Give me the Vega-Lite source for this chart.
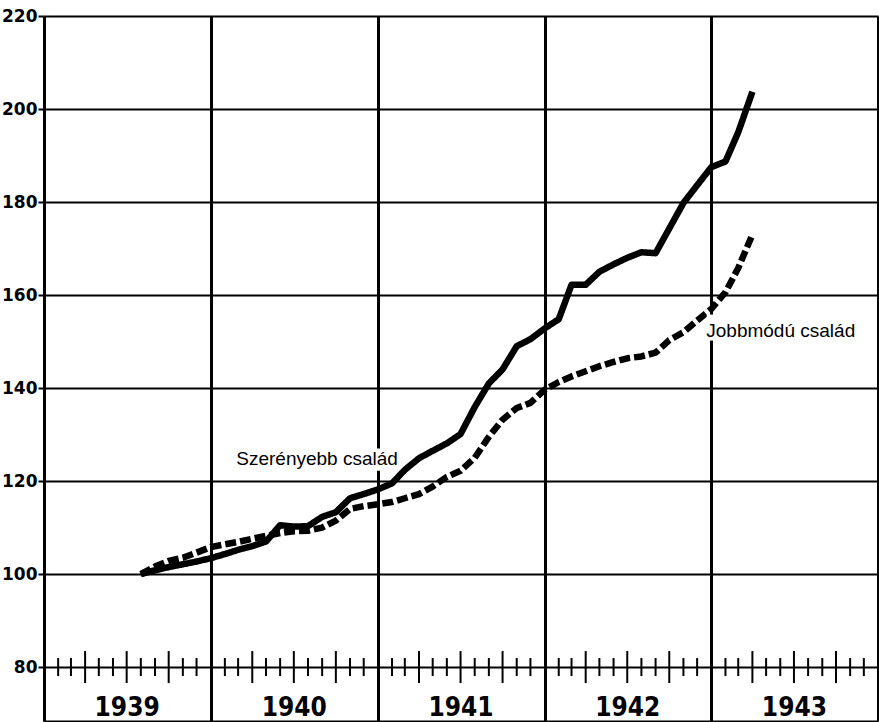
{
  "$schema": "https://vega.github.io/schema/vega-lite/v6.json",
  "width": 834,
  "height": 705,
  "autosize": {"type": "none"},
  "padding": {"left": 44, "top": 16, "right": 1, "bottom": 1},
  "background": "white",
  "config": {"view": {"stroke": null}},
  "datasets": {
    "series": [
      {"d": "1939-08-01", "v": 100.0, "s": "Szerényebb család"},
      {"d": "1939-09-01", "v": 100.8, "s": "Szerényebb család"},
      {"d": "1939-10-01", "v": 101.5, "s": "Szerényebb család"},
      {"d": "1939-11-01", "v": 102.1, "s": "Szerényebb család"},
      {"d": "1939-12-01", "v": 102.7, "s": "Szerényebb család"},
      {"d": "1940-01-01", "v": 103.4, "s": "Szerényebb család"},
      {"d": "1940-02-01", "v": 104.3, "s": "Szerényebb család"},
      {"d": "1940-03-01", "v": 105.2, "s": "Szerényebb család"},
      {"d": "1940-04-01", "v": 106.0, "s": "Szerényebb család"},
      {"d": "1940-05-01", "v": 107.0, "s": "Szerényebb család"},
      {"d": "1940-06-01", "v": 110.5, "s": "Szerényebb család"},
      {"d": "1940-07-01", "v": 110.2, "s": "Szerényebb család"},
      {"d": "1940-08-01", "v": 110.3, "s": "Szerényebb család"},
      {"d": "1940-09-01", "v": 112.3, "s": "Szerényebb család"},
      {"d": "1940-10-01", "v": 113.3, "s": "Szerényebb család"},
      {"d": "1940-11-01", "v": 116.3, "s": "Szerényebb család"},
      {"d": "1940-12-01", "v": 117.2, "s": "Szerényebb család"},
      {"d": "1941-01-01", "v": 118.2, "s": "Szerényebb család"},
      {"d": "1941-02-01", "v": 119.5, "s": "Szerényebb család"},
      {"d": "1941-03-01", "v": 122.4, "s": "Szerényebb család"},
      {"d": "1941-04-01", "v": 124.9, "s": "Szerényebb család"},
      {"d": "1941-05-01", "v": 126.5, "s": "Szerényebb család"},
      {"d": "1941-06-01", "v": 128.1, "s": "Szerényebb család"},
      {"d": "1941-07-01", "v": 130.1, "s": "Szerényebb család"},
      {"d": "1941-08-01", "v": 135.9, "s": "Szerényebb család"},
      {"d": "1941-09-01", "v": 141.0, "s": "Szerényebb család"},
      {"d": "1941-10-01", "v": 144.0, "s": "Szerényebb család"},
      {"d": "1941-11-01", "v": 149.0, "s": "Szerényebb család"},
      {"d": "1941-12-01", "v": 150.5, "s": "Szerényebb család"},
      {"d": "1942-01-01", "v": 152.8, "s": "Szerényebb család"},
      {"d": "1942-02-01", "v": 154.8, "s": "Szerényebb család"},
      {"d": "1942-03-01", "v": 162.2, "s": "Szerényebb család"},
      {"d": "1942-04-01", "v": 162.2, "s": "Szerényebb család"},
      {"d": "1942-05-01", "v": 165.0, "s": "Szerényebb család"},
      {"d": "1942-06-01", "v": 166.6, "s": "Szerényebb család"},
      {"d": "1942-07-01", "v": 168.0, "s": "Szerényebb család"},
      {"d": "1942-08-01", "v": 169.2, "s": "Szerényebb család"},
      {"d": "1942-09-01", "v": 169.0, "s": "Szerényebb család"},
      {"d": "1942-10-01", "v": 174.3, "s": "Szerényebb család"},
      {"d": "1942-11-01", "v": 179.8, "s": "Szerényebb család"},
      {"d": "1942-12-01", "v": 183.6, "s": "Szerényebb család"},
      {"d": "1943-01-01", "v": 187.5, "s": "Szerényebb család"},
      {"d": "1943-02-01", "v": 188.7, "s": "Szerényebb család"},
      {"d": "1943-03-01", "v": 195.0, "s": "Szerényebb család"},
      {"d": "1943-04-01", "v": 203.7, "s": "Szerényebb család"},
      {"d": "1939-08-01", "v": 100.0, "s": "Jobbmódú család"},
      {"d": "1939-09-01", "v": 101.6, "s": "Jobbmódú család"},
      {"d": "1939-10-01", "v": 102.8, "s": "Jobbmódú család"},
      {"d": "1939-11-01", "v": 103.5, "s": "Jobbmódú család"},
      {"d": "1939-12-01", "v": 104.6, "s": "Jobbmódú család"},
      {"d": "1940-01-01", "v": 105.8, "s": "Jobbmódú család"},
      {"d": "1940-02-01", "v": 106.4, "s": "Jobbmódú család"},
      {"d": "1940-03-01", "v": 106.9, "s": "Jobbmódú család"},
      {"d": "1940-04-01", "v": 107.6, "s": "Jobbmódú család"},
      {"d": "1940-05-01", "v": 108.2, "s": "Jobbmódú család"},
      {"d": "1940-06-01", "v": 108.8, "s": "Jobbmódú család"},
      {"d": "1940-07-01", "v": 109.2, "s": "Jobbmódú család"},
      {"d": "1940-08-01", "v": 109.3, "s": "Jobbmódú család"},
      {"d": "1940-09-01", "v": 110.0, "s": "Jobbmódú család"},
      {"d": "1940-10-01", "v": 111.5, "s": "Jobbmódú család"},
      {"d": "1940-11-01", "v": 114.0, "s": "Jobbmódú család"},
      {"d": "1940-12-01", "v": 114.6, "s": "Jobbmódú család"},
      {"d": "1941-01-01", "v": 115.0, "s": "Jobbmódú család"},
      {"d": "1941-02-01", "v": 115.5, "s": "Jobbmódú család"},
      {"d": "1941-03-01", "v": 116.3, "s": "Jobbmódú család"},
      {"d": "1941-04-01", "v": 117.2, "s": "Jobbmódú család"},
      {"d": "1941-05-01", "v": 118.8, "s": "Jobbmódú család"},
      {"d": "1941-06-01", "v": 120.9, "s": "Jobbmódú család"},
      {"d": "1941-07-01", "v": 122.2, "s": "Jobbmódú család"},
      {"d": "1941-08-01", "v": 125.0, "s": "Jobbmódú család"},
      {"d": "1941-09-01", "v": 129.5, "s": "Jobbmódú család"},
      {"d": "1941-10-01", "v": 133.2, "s": "Jobbmódú család"},
      {"d": "1941-11-01", "v": 135.7, "s": "Jobbmódú család"},
      {"d": "1941-12-01", "v": 136.8, "s": "Jobbmódú család"},
      {"d": "1942-01-01", "v": 139.6, "s": "Jobbmódú család"},
      {"d": "1942-02-01", "v": 141.3, "s": "Jobbmódú család"},
      {"d": "1942-03-01", "v": 142.5, "s": "Jobbmódú család"},
      {"d": "1942-04-01", "v": 143.6, "s": "Jobbmódú család"},
      {"d": "1942-05-01", "v": 144.7, "s": "Jobbmódú család"},
      {"d": "1942-06-01", "v": 145.6, "s": "Jobbmódú család"},
      {"d": "1942-07-01", "v": 146.4, "s": "Jobbmódú család"},
      {"d": "1942-08-01", "v": 146.8, "s": "Jobbmódú család"},
      {"d": "1942-09-01", "v": 147.6, "s": "Jobbmódú család"},
      {"d": "1942-10-01", "v": 150.3, "s": "Jobbmódú család"},
      {"d": "1942-11-01", "v": 152.0, "s": "Jobbmódú család"},
      {"d": "1942-12-01", "v": 154.5, "s": "Jobbmódú család"},
      {"d": "1943-01-01", "v": 157.0, "s": "Jobbmódú család"},
      {"d": "1943-02-01", "v": 160.6, "s": "Jobbmódú család"},
      {"d": "1943-03-01", "v": 165.8, "s": "Jobbmódú család"},
      {"d": "1943-04-01", "v": 173.0, "s": "Jobbmódú család"}
    ],
    "ticks": [
      {"d": "1939-02-01", "k": "m"}, {"d": "1939-03-01", "k": "m"}, {"d": "1939-04-01", "k": "q"},
      {"d": "1939-05-01", "k": "m"}, {"d": "1939-06-01", "k": "m"}, {"d": "1939-07-01", "k": "q"},
      {"d": "1939-08-01", "k": "m"}, {"d": "1939-09-01", "k": "m"}, {"d": "1939-10-01", "k": "q"},
      {"d": "1939-11-01", "k": "m"}, {"d": "1939-12-01", "k": "m"},
      {"d": "1940-02-01", "k": "m"}, {"d": "1940-03-01", "k": "m"}, {"d": "1940-04-01", "k": "q"},
      {"d": "1940-05-01", "k": "m"}, {"d": "1940-06-01", "k": "m"}, {"d": "1940-07-01", "k": "q"},
      {"d": "1940-08-01", "k": "m"}, {"d": "1940-09-01", "k": "m"}, {"d": "1940-10-01", "k": "q"},
      {"d": "1940-11-01", "k": "m"}, {"d": "1940-12-01", "k": "m"},
      {"d": "1941-02-01", "k": "m"}, {"d": "1941-03-01", "k": "m"}, {"d": "1941-04-01", "k": "q"},
      {"d": "1941-05-01", "k": "m"}, {"d": "1941-06-01", "k": "m"}, {"d": "1941-07-01", "k": "q"},
      {"d": "1941-08-01", "k": "m"}, {"d": "1941-09-01", "k": "m"}, {"d": "1941-10-01", "k": "q"},
      {"d": "1941-11-01", "k": "m"}, {"d": "1941-12-01", "k": "m"},
      {"d": "1942-02-01", "k": "m"}, {"d": "1942-03-01", "k": "m"}, {"d": "1942-04-01", "k": "q"},
      {"d": "1942-05-01", "k": "m"}, {"d": "1942-06-01", "k": "m"}, {"d": "1942-07-01", "k": "q"},
      {"d": "1942-08-01", "k": "m"}, {"d": "1942-09-01", "k": "m"}, {"d": "1942-10-01", "k": "q"},
      {"d": "1942-11-01", "k": "m"}, {"d": "1942-12-01", "k": "m"},
      {"d": "1943-02-01", "k": "m"}, {"d": "1943-03-01", "k": "m"}, {"d": "1943-04-01", "k": "q"},
      {"d": "1943-05-01", "k": "m"}, {"d": "1943-06-01", "k": "m"}, {"d": "1943-07-01", "k": "q"},
      {"d": "1943-08-01", "k": "m"}, {"d": "1943-09-01", "k": "m"}, {"d": "1943-10-01", "k": "q"},
      {"d": "1943-11-01", "k": "m"}, {"d": "1943-12-01", "k": "m"}
    ],
    "years": [
      {"year": "1939", "d": "1939-07-02"},
      {"year": "1940", "d": "1940-07-02"},
      {"year": "1941", "d": "1941-07-02"},
      {"year": "1942", "d": "1942-07-02"},
      {"year": "1943", "d": "1943-07-02"}
    ]
  },
  "encoding": {
    "x": {
      "type": "temporal",
      "scale": {
        "type": "utc",
        "domain": [
          {"year": 1939, "month": 1, "date": 1, "utc": true},
          {"year": 1944, "month": 1, "date": 1, "utc": true}
        ]
      },
      "axis": {
        "title": null,
        "labels": false,
        "ticks": false,
        "domain": true,
        "domainColor": "black",
        "domainWidth": 2,
        "grid": true,
        "gridColor": "black",
        "gridWidth": 3,
        "gridOpacity": 1,
        "values": [
          {"year": 1939, "month": 1, "date": 1, "utc": true},
          {"year": 1940, "month": 1, "date": 1, "utc": true},
          {"year": 1941, "month": 1, "date": 1, "utc": true},
          {"year": 1942, "month": 1, "date": 1, "utc": true},
          {"year": 1943, "month": 1, "date": 1, "utc": true},
          {"year": 1944, "month": 1, "date": 1, "utc": true}
        ]
      }
    },
    "y": {
      "type": "quantitative",
      "scale": {"domain": [68.4, 220], "nice": false, "zero": false},
      "axis": {
        "title": null,
        "values": [80, 100, 120, 140, 160, 180, 200, 220],
        "domainColor": "black",
        "domainWidth": 3,
        "tickColor": "black",
        "tickWidth": 2,
        "tickSize": 6,
        "labelPadding": 1,
        "labelFont": "DejaVu Sans",
        "labelFontWeight": "bold",
        "labelFontSize": 17,
        "labelColor": "black",
        "grid": true,
        "gridColor": "black",
        "gridWidth": 2,
        "gridOpacity": 1
      }
    }
  },
  "layer": [
    {
      "data": {"name": "ticks"},
      "mark": {"type": "tick", "orient": "vertical", "thickness": 2, "color": "black", "opacity": 1},
      "encoding": {
        "x": {"field": "d", "type": "temporal"},
        "y": {"datum": 80, "type": "quantitative"},
        "size": {"field": "k", "type": "nominal", "scale": {"domain": ["m", "q"], "range": [18, 32]}, "legend": null}
      }
    },
    {
      "data": {"name": "series"},
      "mark": {"type": "line", "color": "black", "strokeWidth": 6.5, "strokeJoin": "round", "strokeCap": "butt"},
      "encoding": {
        "x": {"field": "d", "type": "temporal"},
        "y": {"field": "v", "type": "quantitative"},
        "detail": {"field": "s", "type": "nominal"},
        "strokeDash": {
          "field": "s",
          "type": "nominal",
          "scale": {"domain": ["Szerényebb család", "Jobbmódú család"], "range": [[1, 0], [11, 4]]},
          "legend": null
        }
      }
    },
    {
      "data": {"values": [{}]},
      "mark": {"type": "rect", "color": "white"},
      "encoding": {
        "x": {"datum": {"year": 1940, "month": 12, "date": 20, "utc": true}, "type": "temporal"},
        "x2": {"datum": {"year": 1941, "month": 1, "date": 12, "utc": true}},
        "y": {"datum": 122.2, "type": "quantitative"},
        "y2": {"datum": 127.0}
      }
    },
    {
      "data": {"values": [{}]},
      "mark": {"type": "rect", "color": "white"},
      "encoding": {
        "x": {"datum": {"year": 1942, "month": 12, "date": 22, "utc": true}, "type": "temporal"},
        "x2": {"datum": {"year": 1943, "month": 1, "date": 12, "utc": true}},
        "y": {"datum": 150.2, "type": "quantitative"},
        "y2": {"datum": 155.8}
      }
    },
    {
      "data": {"values": [{}]},
      "mark": {"type": "text", "align": "left", "baseline": "alphabetic", "font": "Liberation Sans", "fontSize": 19, "color": "black"},
      "encoding": {
        "x": {"datum": {"year": 1940, "month": 2, "date": 26, "utc": true}, "type": "temporal"},
        "y": {"datum": 123.4, "type": "quantitative"},
        "text": {"value": "Szerényebb család"}
      }
    },
    {
      "data": {"values": [{}]},
      "mark": {"type": "text", "align": "left", "baseline": "alphabetic", "font": "Liberation Sans", "fontSize": 19, "color": "black"},
      "encoding": {
        "x": {"datum": {"year": 1942, "month": 12, "date": 21, "utc": true}, "type": "temporal"},
        "y": {"datum": 151.0, "type": "quantitative"},
        "text": {"value": "Jobbmódú család"}
      }
    },
    {
      "data": {"name": "years"},
      "mark": {"type": "text", "align": "center", "baseline": "alphabetic", "font": "DejaVu Sans Condensed, sans-serif", "fontWeight": "bold", "fontSize": 26, "color": "black"},
      "encoding": {
        "x": {"field": "d", "type": "temporal"},
        "y": {"datum": 69.5, "type": "quantitative"},
        "text": {"field": "year", "type": "nominal"}
      }
    }
  ]
}
